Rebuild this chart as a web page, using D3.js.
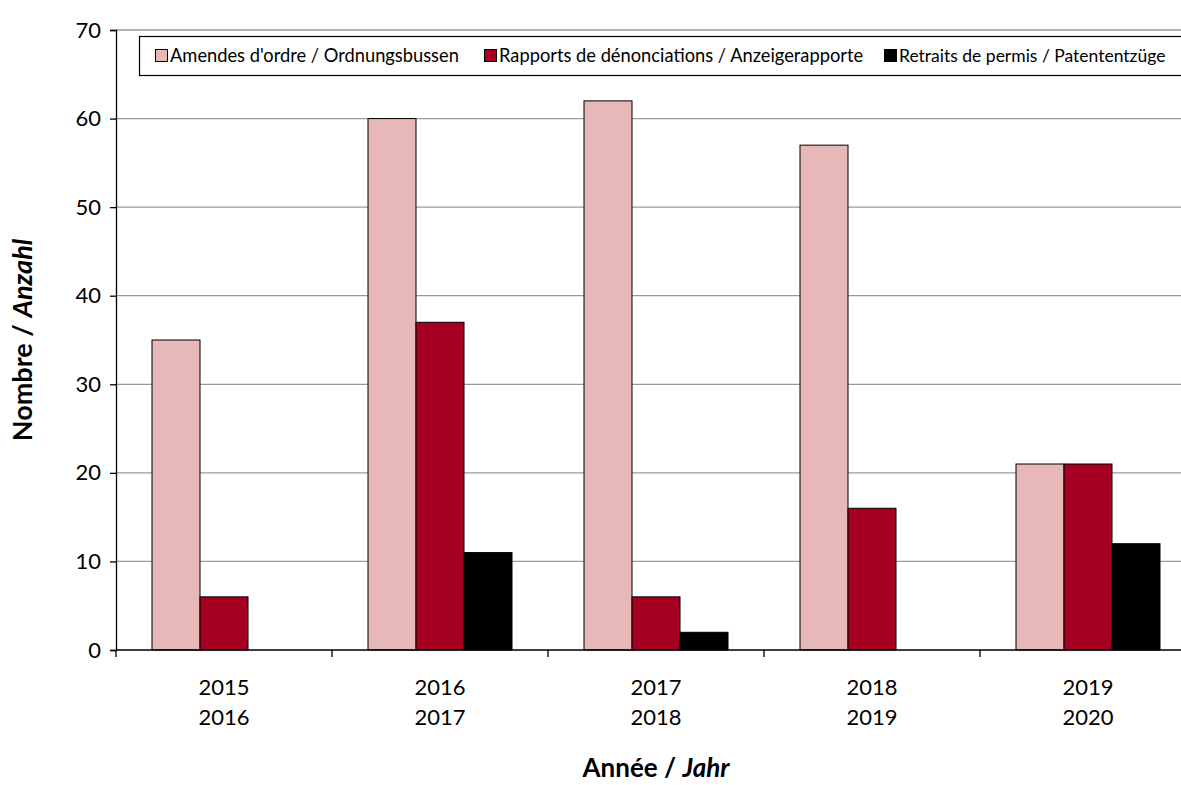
<!DOCTYPE html>
<html>
<head>
<meta charset="utf-8">
<script src="https://cdn.jsdelivr.net/npm/d3@7"></script>
<style>
  html, body { margin: 0; padding: 0; background: #fff; }
  svg { display: block; font-family: Lato, "Open Sans", sans-serif; }
</style>
</head>
<body>
<svg id="chart" width="1181" height="785"></svg>
<script>
// Season labels (two lines each)
const seasons = [["2015", "2016"], ["2016", "2017"], ["2017", "2018"], ["2018", "2019"], ["2019", "2020"]];
const seriesNames = [
  "Amendes d'ordre / Ordnungsbussen",
  "Rapports de dénonciations / Anzeigerapporte",
  "Retraits de permis / Patententzüge"
];
const seriesColors = ["#E6B8B7", "#A50021", "#000000"];
const amendes = [35, 60, 62, 57, 21];
const rapports = [6, 37, 6, 16, 21];
const retraits = [0, 11, 2, 0, 12];
const yTicks = [0, 10, 20, 30, 40, 50, 60, 70];

const seriesValues = [amendes, rapports, retraits];

const svg = d3.select("#chart");
const margin = { left: 116, top: 30, bottom: 135 };
const plotW = 1080;
const plotH = 785 - margin.top - margin.bottom;

const x = d3.scaleBand().domain(d3.range(seasons.length)).range([margin.left, margin.left + plotW]);
const xInner = d3.scaleBand().domain(d3.range(3)).range([0, x.bandwidth()]).paddingOuter(0.75).paddingInner(0);
const y = d3.scaleLinear().domain([0, 70]).range([margin.top + plotH, margin.top]);

// Horizontal gridlines
svg.append("g")
  .selectAll("line")
  .data(yTicks.filter(d => d > 0))
  .join("line")
  .attr("x1", margin.left).attr("x2", margin.left + plotW)
  .attr("y1", d => y(d)).attr("y2", d => y(d))
  .attr("stroke", "#999").attr("stroke-width", 1.3);

// Bars
const groups = svg.append("g")
  .selectAll("g")
  .data(seasons.map((s, i) => i))
  .join("g")
  .attr("transform", i => `translate(${x(i)},0)`);

groups.selectAll("rect")
  .data(i => seriesValues.map((vals, k) => ({ k, v: vals[i] })))
  .join("rect")
  .filter(d => d.v > 0)
  .attr("x", d => xInner(d.k))
  .attr("width", xInner.bandwidth())
  .attr("y", d => y(d.v))
  .attr("height", d => y(0) - y(d.v))
  .attr("fill", d => seriesColors[d.k])
  .attr("stroke", "#000").attr("stroke-width", 1);

// Y axis
const yAxis = d3.axisLeft(y).tickValues(yTicks).tickSize(6).tickPadding(9);
const gy = svg.append("g").attr("transform", `translate(${margin.left},0)`).call(yAxis);
gy.select(".domain").attr("stroke", "#000").attr("stroke-width", 1.3);
gy.selectAll(".tick line").attr("stroke", "#000").attr("stroke-width", 1.3);
gy.selectAll(".tick text").attr("font-size", 22).attr("fill", "#000").attr("font-family", "Lato, sans-serif");

// X axis with category boundary ticks
const gx = svg.append("g").attr("transform", `translate(0,${y(0)})`);
gx.append("line")
  .attr("x1", margin.left).attr("x2", margin.left + plotW)
  .attr("stroke", "#000").attr("stroke-width", 1.3);
gx.selectAll("line.tick")
  .data(d3.range(seasons.length + 1))
  .join("line")
  .attr("class", "tick")
  .attr("x1", i => margin.left + i * x.step()).attr("x2", i => margin.left + i * x.step())
  .attr("y1", 0).attr("y2", 7)
  .attr("stroke", "#000").attr("stroke-width", 1.3);
const labels = gx.selectAll("text")
  .data(seasons.map((s, i) => ({ s, i })))
  .join("text")
  .attr("text-anchor", "middle")
  .attr("font-size", 22)
  .attr("fill", "#000");
labels.each(function (d) {
  const t = d3.select(this);
  d.s.forEach((line, j) => {
    t.append("tspan")
      .attr("x", x(d.i) + x.bandwidth() / 2)
      .attr("y", 45 + j * 30)
      .text(line);
  });
});

// Axis titles
const xt = svg.append("text")
  .attr("x", margin.left + plotW / 2).attr("y", 777)
  .attr("text-anchor", "middle")
  .attr("font-size", 26).attr("font-weight", "bold");
xt.append("tspan").text("Année / ");
xt.append("tspan").attr("font-style", "italic").text("Jahr");

const yt = svg.append("text")
  .attr("transform", `translate(32,${margin.top + plotH / 2}) rotate(-90)`)
  .attr("text-anchor", "middle")
  .attr("font-size", 27).attr("font-weight", "bold");
yt.append("tspan").text("Nombre / ");
yt.append("tspan").attr("font-style", "italic").text("Anzahl");

// Legend
const legend = svg.append("g");
legend.append("rect")
  .attr("x", 139.5).attr("y", 36.5)
  .attr("width", 1100).attr("height", 39)
  .attr("fill", "#fff").attr("stroke", "#000").attr("stroke-width", 1.2);
const legendX = [155, 484, 884];
seriesNames.forEach((name, k) => {
  legend.append("rect")
    .attr("x", legendX[k] + 0.5).attr("y", 49.5)
    .attr("width", 12).attr("height", 12)
    .attr("fill", seriesColors[k]).attr("stroke", "#000").attr("stroke-width", 1);
  legend.append("text")
    .attr("x", legendX[k] + 15).attr("y", 62)
    .attr("font-size", k === 2 ? 17.5 : 18.3).attr("fill", "#000")
    .text(name);
});
</script>
</body>
</html>
